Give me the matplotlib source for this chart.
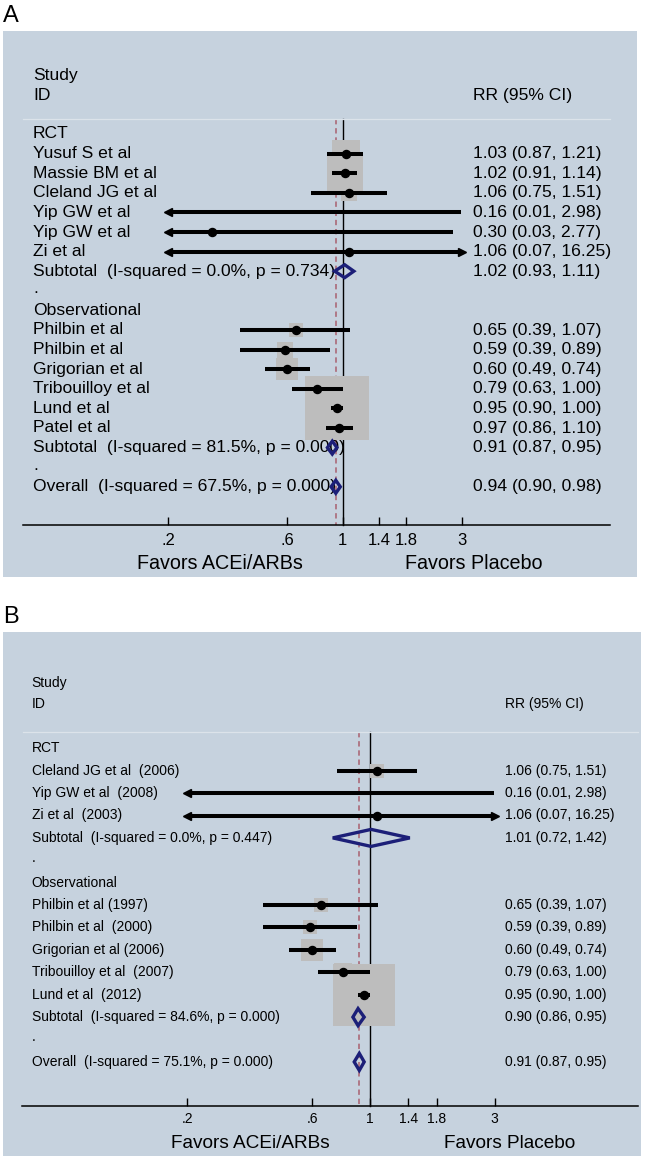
import numpy as np
import matplotlib.pyplot as plt
from matplotlib.patches import Polygon
from matplotlib.ticker import NullLocator

plt.rcParams['font.family'] = ['Liberation Sans', 'DejaVu Sans']

# ---- panel A data ----
rct_a_names = ['Yusuf S et al', 'Massie BM et al', 'Cleland JG et al',
               'Yip GW et al', 'Yip GW et al', 'Zi et al']
rct_a_rr = [1.03, 1.02, 1.06, 0.16, 0.30, 1.06]
rct_a_lo = [0.87, 0.91, 0.75, 0.01, 0.03, 0.07]
rct_a_hi = [1.21, 1.14, 1.51, 2.98, 2.77, 16.25]
rct_a_wt = [11.4, 18.8, 3.3, 0.1, 0.1, 0.1]
rct_a_sub = ['Subtotal  (I-squared = 0.0%, p = 0.734)', 1.02, 0.93, 1.11]

obs_a_names = ['Philbin et al', 'Philbin et al', 'Grigorian et al',
               'Tribouilloy et al', 'Lund et al', 'Patel et al']
obs_a_rr = [0.65, 0.59, 0.60, 0.79, 0.95, 0.97]
obs_a_lo = [0.39, 0.39, 0.49, 0.63, 0.90, 0.86]
obs_a_hi = [1.07, 0.89, 0.74, 1.00, 1.00, 1.10]
obs_a_wt = [2.8, 3.3, 7.3, 5.0, 60.0, 6.0]
obs_a_sub = ['Subtotal  (I-squared = 81.5%, p = 0.000)', 0.91, 0.87, 0.95]

overall_a = ['Overall  (I-squared = 67.5%, p = 0.000)', 0.94, 0.90, 0.98]

# ---- panel B data ----
rct_b_names = ['Cleland JG et al  (2006)', 'Yip GW et al  (2008)', 'Zi et al  (2003)']
rct_b_rr = [1.06, 0.16, 1.06]
rct_b_lo = [0.75, 0.01, 0.07]
rct_b_hi = [1.51, 2.98, 16.25]
rct_b_wt = [3.1, 0.1, 0.1]
rct_b_sub = ['Subtotal  (I-squared = 0.0%, p = 0.447)', 1.01, 0.72, 1.42]

obs_b_names = ['Philbin et al (1997)', 'Philbin et al  (2000)', 'Grigorian et al (2006)',
               'Tribouilloy et al  (2007)', 'Lund et al  (2012)']
obs_b_rr = [0.65, 0.59, 0.60, 0.79, 0.95]
obs_b_lo = [0.39, 0.39, 0.49, 0.63, 0.90]
obs_b_hi = [1.07, 0.89, 0.74, 1.00, 1.00]
obs_b_wt = [3.1, 3.5, 7.3, 5.0, 60.0]
obs_b_sub = ['Subtotal  (I-squared = 84.6%, p = 0.000)', 0.90, 0.86, 0.95]

overall_b = ['Overall  (I-squared = 75.1%, p = 0.000)', 0.91, 0.87, 0.95]

ticks = [0.2, 0.6, 1, 1.4, 1.8, 3]
tick_labels = ['.2', '.6', '1', '1.4', '1.8', '3']

BG = '#c6d2de'
BOXC = '#bdbdbd'
NAVY = '#1c1f78'
DASH = '#a8606f'


def fmt(rr, lo, hi):
    return f'{rr:.2f} ({lo:.2f}, {hi:.2f})'


def diamond(ax, y, rr, lo, hi, h, lw):
    pts = [(lo, y), (rr, y - h), (hi, y), (rr, y + h)]
    ax.add_patch(Polygon(pts, closed=True, fill=False, edgecolor=NAVY,
                         lw=lw, joinstyle='miter', zorder=5))


def draw_panel(ax, groups, overall, c):
    ax.set_facecolor(BG)
    ax.set_xscale('log')
    ax.set_xlim(c['xlim'])
    ax.set_ylim(c['ylim'])
    tr = ax.get_yaxis_transform()
    fs = c['fs']
    cmin, cmax = ticks[0], ticks[-1]

    ax.text(c['xname'], c['study_y'], 'Study', transform=tr, fontsize=fs, va='center')
    ax.text(c['xname'], c['id_y'], 'ID', transform=tr, fontsize=fs, va='center')
    ax.text(c['xval'], c['id_y'], 'RR (95% CI)', transform=tr, fontsize=fs, va='center')
    ax.plot(c['sep_x'], [c['sep_y']] * 2, transform=tr, color='#dce3ea', lw=0.9)

    row = 0
    for title, names, rr, lo, hi, wt, sub in groups:
        ax.text(c['xname'], row, title, transform=tr, fontsize=fs, va='center')
        row += 1
        for n, r, l, h, w in zip(names, rr, lo, hi, wt):
            if cmin <= r <= cmax:
                ax.scatter(r, row, s=c['wscale'] * w, marker='s', color=BOXC,
                           linewidths=0, zorder=2)
            ax.plot([max(l, cmin), min(h, cmax)], [row, row], color='k',
                    lw=2.9, solid_capstyle='butt', zorder=3)
            if l < cmin:
                ax.plot(cmin, row, marker='<', ms=6, color='k', zorder=3)
            if h > cmax:
                ax.plot(cmax, row, marker='>', ms=6, color='k', zorder=3)
            if cmin <= r <= cmax:
                ax.plot(r, row, 'o', ms=5.8, color='k', zorder=4)
            ax.text(c['xname'], row, n, transform=tr, fontsize=fs, va='center')
            ax.text(c['xval'], row, fmt(r, l, h), transform=tr, fontsize=fs, va='center')
            row += 1
        ax.text(c['xname'], row, sub[0], transform=tr, fontsize=fs, va='center')
        ax.text(c['xval'], row, fmt(*sub[1:]), transform=tr, fontsize=fs, va='center')
        diamond(ax, row, sub[1], sub[2], sub[3], c['dh'], 2.4)
        row += 1
        ax.text(c['xname'], row - 0.1, '.', transform=tr, fontsize=fs, va='center')
        row += 1
    ax.text(c['xname'], row, overall[0], transform=tr, fontsize=fs, va='center')
    ax.text(c['xval'], row, fmt(*overall[1:]), transform=tr, fontsize=fs, va='center')
    diamond(ax, row, overall[1], overall[2], overall[3], c['dh'], 2.4)

    # reference lines
    ax.plot([1, 1], [c['sep_y'], c['axis_y']], color='k', lw=1.0, zorder=1)
    ax.plot([overall[1]] * 2, [c['sep_y'], c['axis_y']], color=DASH, lw=1.1,
            ls=(0, (3.5, 2.5)), zorder=1)

    # x axis drawn inside the panel
    for s in ['top', 'left', 'right']:
        ax.spines[s].set_visible(False)
    ax.spines['bottom'].set_position(('data', c['axis_y']))
    ax.spines['bottom'].set_bounds(*c['axis_bounds'])
    ax.spines['bottom'].set_linewidth(1.1)
    ax.set_xticks(ticks)
    ax.set_xticklabels(tick_labels)
    ax.xaxis.set_minor_locator(NullLocator())
    ax.tick_params(axis='x', direction='in', length=5.8, width=1.0,
                   labelsize=c['tfs'], pad=c['tpad'])
    ax.set_yticks([])

    ax.text(c['fav_x'][0], c['fav_y'], 'Favors ACEi/ARBs', transform=tr,
            fontsize=c['ffs'], ha='center', va='center')
    ax.text(c['fav_x'][1], c['fav_y'], 'Favors Placebo', transform=tr,
            fontsize=c['ffs'], ha='center', va='center')


fig = plt.figure(figsize=(6.55, 11.59), dpi=100)
W, H = 655, 1159

# panel A layout (pixel based)
one_a, k_a = 342.5, 108.4
ax_a = fig.add_axes([3 / W, 1 - 577 / H, 634 / W, 546 / H])
cfg_a = dict(
    xlim=(np.exp((3 - one_a) / k_a), np.exp((637 - one_a) / k_a)),
    ylim=((577 - 134) / 19.6, (31 - 134) / 19.6),
    fs=12.6, tfs=12, ffs=14.2, tpad=5.4,
    xname=30 / 634, xval=470 / 634,
    study_y=-2.96, id_y=-1.94, sep_y=-0.77, sep_x=[20 / 634, 607 / 634],
    axis_y=19.95,
    axis_bounds=(np.exp((23 - one_a) / k_a), np.exp((610 - one_a) / k_a)),
    fav_x=(217 / 634, 470.5 / 634), fav_y=21.89,
    wscale=35.7, dh=0.33,
)
draw_panel(ax_a,
           [('RCT', rct_a_names, rct_a_rr, rct_a_lo, rct_a_hi, rct_a_wt, rct_a_sub),
            ('Observational', obs_a_names, obs_a_rr, obs_a_lo, obs_a_hi, obs_a_wt, obs_a_sub)],
           overall_a, cfg_a)

# panel B layout
one_b, k_b = 370.0, 113.4
ax_b = fig.add_axes([3 / W, 1 - 1156 / H, 638 / W, 524 / H])
cfg_b = dict(
    xlim=(np.exp((3 - one_b) / k_b), np.exp((641 - one_b) / k_b)),
    ylim=((1156 - 748.3) / 22.4, (632 - 748.3) / 22.4),
    fs=10, tfs=10, ffs=13.7, tpad=4.3,
    xname=28.7 / 638, xval=502 / 638,
    study_y=-2.93, id_y=-1.96, sep_y=-0.74, sep_x=[20 / 638, 634.5 / 638],
    axis_y=15.99,
    axis_bounds=(np.exp((21.7 - one_b) / k_b), np.exp((637.5 - one_b) / k_b)),
    fav_x=(247 / 638, 506.5 / 638), fav_y=17.63,
    wscale=33.2, dh=0.38,
)
draw_panel(ax_b,
           [('RCT', rct_b_names, rct_b_rr, rct_b_lo, rct_b_hi, rct_b_wt, rct_b_sub),
            ('Observational', obs_b_names, obs_b_rr, obs_b_lo, obs_b_hi, obs_b_wt, obs_b_sub)],
           overall_b, cfg_b)

fig.text(3 / W, 1 - 22 / H, 'A', fontsize=17, va='baseline')
fig.text(3 / W, 1 - 623 / H, 'B', fontsize=17, va='baseline')

fig.savefig('out.png', dpi=100)
